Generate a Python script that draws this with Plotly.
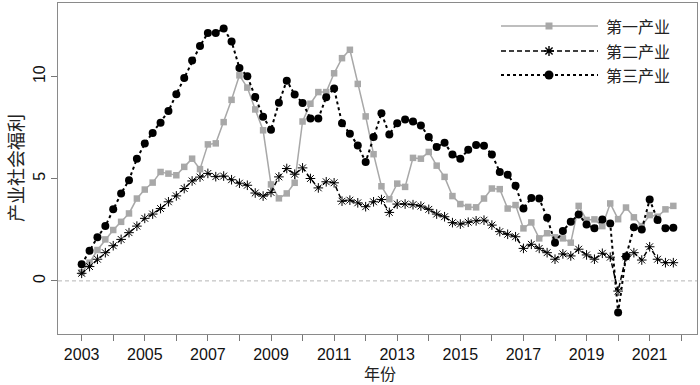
import plotly.graph_objects as go

start_year = 2003
n_quarters = 76
quarters = [start_year + 0.25 * i for i in range(n_quarters)]

series_names = ["第一产业", "第二产业", "第三产业"]

primary = [0.42, 0.89, 1.51, 2.03, 2.49, 2.89, 3.30, 4.03, 4.47, 4.81,
           5.33, 5.25, 5.17, 5.58, 5.98, 5.47, 6.68, 6.73, 7.77, 8.86,
           10.06, 9.46, 8.39, 7.37, 4.72, 4.04, 4.28, 4.80, 7.80, 8.67,
           9.24, 9.24, 10.16, 10.90, 11.31, 9.64, 8.05, 6.20, 4.63, 4.00,
           4.76, 4.60, 6.02, 5.98, 6.31, 5.64, 5.09, 4.15, 3.76, 3.62,
           3.60, 4.03, 4.52, 4.49, 3.54, 3.71, 2.57, 2.86, 2.08, 2.33,
           2.13, 2.08, 1.87, 3.67, 2.98, 3.01, 2.68, 3.79, 3.02, 3.59,
           3.11, 2.68, 3.22, 3.14, 3.50, 3.67]

secondary = [0.37, 0.70, 1.06, 1.38, 1.72, 2.03, 2.36, 2.68, 3.06, 3.27,
             3.54, 3.87, 4.16, 4.52, 4.89, 5.08, 5.26, 5.10, 5.13, 4.95,
             4.78, 4.68, 4.30, 4.15, 4.33, 5.09, 5.50, 5.22, 5.53, 5.01,
             4.55, 4.85, 4.80, 3.90, 3.95, 3.82, 3.63, 3.87, 3.98, 3.35,
             3.76, 3.76, 3.73, 3.66, 3.50, 3.27, 3.14, 2.85, 2.78, 2.87,
             2.94, 2.97, 2.73, 2.41, 2.28, 2.16, 1.59, 1.79, 1.59, 1.38,
             1.06, 1.32, 1.22, 1.55, 1.27, 1.06, 1.35, 1.16, -0.50, 1.19,
             1.38, 1.02, 1.67, 1.06, 0.89, 0.89]

tertiary = [0.81, 1.48, 2.13, 2.68, 3.51, 4.28, 4.93, 5.98, 6.72, 7.24,
            7.74, 8.31, 9.14, 9.93, 10.78, 11.50, 12.13, 12.13, 12.35, 11.72,
            10.42, 10.02, 9.00, 8.03, 7.40, 8.72, 9.80, 9.12, 8.71, 7.95,
            7.95, 8.99, 9.41, 7.72, 7.20, 6.63, 5.82, 7.04, 8.21, 7.17,
            7.72, 7.90, 7.80, 7.61, 7.04, 6.55, 6.76, 6.18, 5.98, 6.42,
            6.65, 6.61, 6.19, 5.33, 5.20, 4.65, 3.54, 4.06, 4.03, 3.09,
            1.87, 2.44, 2.89, 3.25, 2.76, 2.57, 3.01, 2.81, -1.55, 1.19,
            2.62, 2.52, 3.98, 2.98, 2.57, 2.60]

x_tick_years = list(range(2003, 2023))
x_tick_labels = [str(y) if y % 2 == 1 else "" for y in x_tick_years]
y_tick_vals = [0, 5, 10]
x_title = "年份"
y_title = "产业社会福利"

GRAY = "#a8a8a8"
SANS = "Liberation Sans, Arial, sans-serif"
CJK = "Noto Sans CJK SC, sans-serif"

fig = go.Figure()

fig.add_trace(go.Scatter(
    x=quarters, y=primary, name=series_names[0], mode="lines+markers",
    line=dict(color=GRAY, width=1.5),
    marker=dict(symbol="square", size=6.5, color=GRAY),
))
fig.add_trace(go.Scatter(
    x=quarters, y=secondary, name=series_names[1], mode="lines+markers",
    line=dict(color="#000000", width=1.5, dash="5px,3px"),
    marker=dict(symbol="asterisk-open", size=8, line=dict(color="#707070", width=1)),
))
fig.add_trace(go.Scatter(
    x=quarters, y=tertiary, name=series_names[2], mode="lines+markers",
    line=dict(color="#000000", width=2, dash="dot"),
    marker=dict(symbol="circle", size=8, color="#000000"),
))

shapes = []
shapes.append(dict(type="line", xref="paper", x0=0, x1=1, yref="y", y0=0, y1=0,
                   line=dict(color="#b5b5b5", width=1, dash="4px,3px"), layer="below"))

PL, PW, PT, PH = 58, 639, 3, 331
def px(xp):
    return (xp - PL) / PW
def py(yp):
    return 1 - (yp - PT) / PH

leg_x0, leg_x1, leg_xm = 501, 598, 549
rows = [26, 51, 75]
styles = [dict(color=GRAY, width=1.5),
          dict(color="#000000", width=1.5, dash="5px,3px"),
          dict(color="#000000", width=2, dash="dot")]
for r, st in zip(rows, styles):
    shapes.append(dict(type="line", xref="paper", yref="paper",
                       x0=px(leg_x0), x1=px(leg_x1), y0=py(r), y1=py(r), line=st))
shapes.append(dict(type="rect", xref="paper", yref="paper", xsizemode="pixel", ysizemode="pixel",
                   xanchor=px(leg_xm), yanchor=py(rows[0]), x0=-3.5, x1=3.5, y0=-3.5, y1=3.5,
                   fillcolor=GRAY, line=dict(width=0)))
shapes.append(dict(type="path", xref="paper", yref="paper", xsizemode="pixel", ysizemode="pixel",
                   xanchor=px(leg_xm), yanchor=py(rows[1]),
                   path="M-5,0 L5,0 M0,-5 L0,5 M-3.6,-3.6 L3.6,3.6 M-3.6,3.6 L3.6,-3.6",
                   line=dict(color="#000000", width=1.4)))
shapes.append(dict(type="circle", xref="paper", yref="paper", xsizemode="pixel", ysizemode="pixel",
                   xanchor=px(leg_xm), yanchor=py(rows[2]), x0=-4.5, x1=4.5, y0=-4.5, y1=4.5,
                   fillcolor="#000000", line=dict(width=0)))

annotations = []
for r, name in zip(rows, series_names):
    annotations.append(dict(xref="paper", yref="paper", x=px(604), y=py(r), text=name,
                            showarrow=False, xanchor="left", yanchor="middle",
                            font=dict(family=CJK, size=16, color="#222222")))
annotations.append(dict(xref="paper", yref="paper", x=px(380), y=py(373), text=x_title,
                        showarrow=False, xanchor="center", yanchor="middle",
                        font=dict(family=CJK, size=16, color="#222222")))
annotations.append(dict(xref="paper", yref="paper", x=px(15), y=py(168), text=y_title,
                        showarrow=False, xanchor="center", yanchor="middle", textangle=-90,
                        font=dict(family=CJK, size=18, color="#222222")))

fig.update_layout(
    width=700, height=385,
    margin=dict(l=58, r=3, t=3, b=51),
    paper_bgcolor="white", plot_bgcolor="white",
    showlegend=False,
    shapes=shapes,
    annotations=annotations,
    xaxis=dict(
        range=[2002.25, 2022.5], tickmode="array", tickvals=x_tick_years, ticktext=x_tick_labels,
        ticks="outside", ticklen=6, tickcolor="#777777", tickwidth=1,
        showgrid=False, zeroline=False, showline=True, mirror=True,
        linecolor="#8a8a8a", linewidth=1.2, automargin=False,
        tickfont=dict(family=SANS, size=16, color="#111111"),
    ),
    yaxis=dict(
        range=[-2.6, 13.6], tickmode="array", tickvals=y_tick_vals,
        ticks="outside", ticklen=6, tickcolor="#777777", tickwidth=1, tickangle=-90,
        showgrid=False, zeroline=False, showline=True, mirror=True,
        linecolor="#8a8a8a", linewidth=1.2, automargin=False,
        tickfont=dict(family=SANS, size=16, color="#111111"),
    ),
)

fig.write_html("out.html", config={"displayModeBar": False},
               post_script="document.body.style.margin='0';document.body.style.overflow='hidden';")
